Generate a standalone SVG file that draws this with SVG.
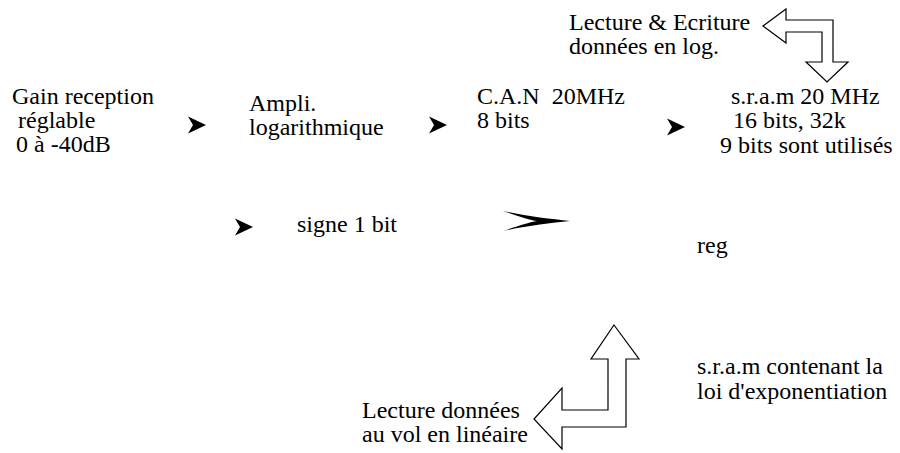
<svg xmlns="http://www.w3.org/2000/svg" xmlns:xlink="http://www.w3.org/1999/xlink" width="900" height="453" viewBox="0 0 900 453">
<style>
text{font-family:"Liberation Serif","Times New Roman",serif;font-size:24px;fill:#000}
.hollow{fill:#fff;stroke:#000;stroke-width:1.2;stroke-linejoin:miter}
.head{fill:#000}
</style>
<defs>
<path id="chev" d="M0,-8.5 L18,0 L0,8.5 L5,0 Z"/>
</defs>
<rect width="900" height="453" fill="#fff"/>
<g id="gain"><text x="12" y="104">Gain reception</text><text x="18" y="128">réglable</text><text x="16" y="152">0 à -40dB</text></g>
<g id="ampli"><text x="249" y="111">Ampli.</text><text x="249" y="135">logarithmique</text></g>
<g id="can"><text x="477" y="104" xml:space="preserve">C.A.N  20MHz</text><text x="477" y="128">8 bits</text></g>
<g id="sram1"><text x="731" y="104">s.r.a.m 20 MHz</text><text x="733" y="128">16 bits, 32k</text><text x="720" y="153">9 bits sont utilisés</text></g>
<g id="rw-log"><text x="569" y="30">Lecture &amp; Ecriture</text><text x="569" y="54">données en log.</text></g>
<g id="signe"><text x="297" y="232">signe 1 bit</text></g>
<g id="reg"><text x="697" y="253">reg</text></g>
<g id="sram2"><text x="697" y="374">s.r.a.m contenant la</text><text x="697" y="399">loi d'exponentiation</text></g>
<g id="read-lin"><text x="362" y="418">Lecture données</text><text x="362" y="442">au vol en linéaire</text></g>
<g id="connectors">
<use xlink:href="#chev" class="head" transform="translate(188,125)"/>
<use xlink:href="#chev" class="head" transform="translate(429,125)"/>
<use xlink:href="#chev" class="head" transform="translate(667,127)"/>
<use xlink:href="#chev" class="head" transform="translate(235,227)"/>
<path class="head" d="M503,211 C525,216 550,219 570,221 C550,223 525,226 503,231 C518,226 530,222 537,221 C530,220 518,216 503,211 Z"/>
<path class="hollow" d="M763,26 L786,9 L786,20 L833,20 L833,62 L848,62 L827,82 L806,62 L822,62 L822,32 L786,32 L786,43 Z"/>
<path class="hollow" d="M614,325 L639,359 L626,359 L626,427 L562,427 L562,449 L534,419 L562,388 L562,410 L608,410 L608,359 L591,359 Z"/>
</g>
</svg>
